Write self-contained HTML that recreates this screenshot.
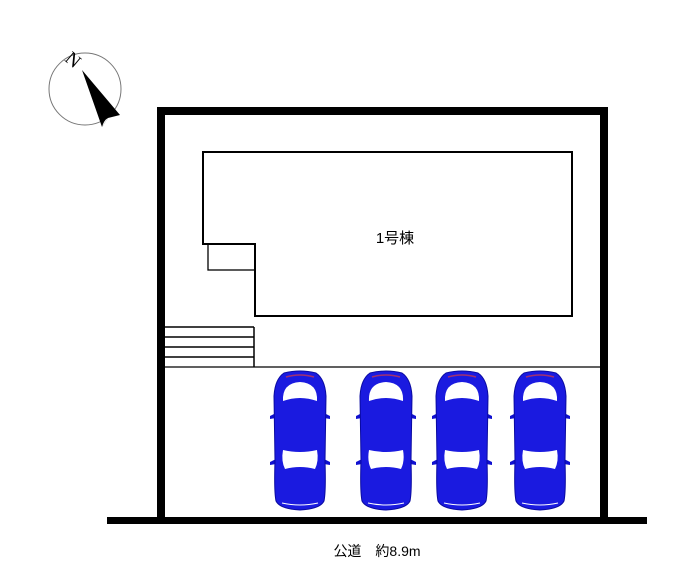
<!DOCTYPE html>
<html><head><meta charset="utf-8"><style>
html,body{margin:0;padding:0;background:#fff;width:678px;height:586px;overflow:hidden}
svg{display:block}
text{font-family:"Liberation Sans","Noto Sans CJK JP",sans-serif}
</style></head><body>
<svg width="678" height="586" viewBox="0 0 678 586" xmlns="http://www.w3.org/2000/svg">
<defs>
<g id="car">
 <path d="M-24,-28 l-6,3 l0,3 l6,-1z M24,-28 l6,3 l0,3 l-6,-1z" fill="#1010d0"/>
 <path d="M-24,18 l-6,3 l0,3 l6,-1z M24,18 l6,3 l0,3 l-6,-1z" fill="#1010d0"/>
 <path d="M-16,-68 Q0,-72 16,-68 Q25,-62 26,-45 L25,20 Q26,50 24,60 Q20,68 0,69 Q-20,68 -24,60 Q-26,50 -25,20 L-26,-45 Q-25,-62 -16,-68Z" fill="#1a1ae0" stroke="#0a0aa0" stroke-width="1"/>
 <path d="M-14,-64 Q0,-68 14,-64" fill="none" stroke="#a03070" stroke-width="1.5"/>
 <path d="M-17,-40 Q-18,-58 0,-59 Q18,-58 17,-40 Q0,-46 -17,-40Z" fill="#fff"/>
 <path d="M-17,9 Q0,13 17,9 Q19,20 15,28 Q0,24 -15,28 Q-19,20 -17,9Z" fill="#fff"/>
 <path d="M-18,62 Q0,66 18,62" fill="none" stroke="#fff" stroke-width="1"/>
</g>
</defs>
<circle cx="85" cy="89" r="36" fill="#fff" stroke="#777" stroke-width="1"/>
<polygon points="82,70 120,115 108,118 102,127" fill="#000"/>
<path d="M108,118 Q104,120 102,127" fill="#fff"/>
<text x="73" y="66" font-size="19" transform="rotate(40 73 60)" text-anchor="middle" style="font-family:'Liberation Serif',serif">N</text>
<rect x="157" y="107" width="8" height="412" fill="#000"/>
<rect x="600" y="107" width="8" height="412" fill="#000"/>
<rect x="157" y="107" width="451" height="8" fill="#000"/>
<rect x="107" y="517" width="540" height="7" fill="#000"/>
<path d="M203,152 L572,152 L572,316 L255,316 L255,244 L203,244 Z" fill="none" stroke="#000" stroke-width="2"/>
<rect x="208" y="244" width="47" height="26" fill="none" stroke="#000" stroke-width="1.3"/>
<text x="395" y="243" font-size="15" text-anchor="middle">1号棟</text>
<g stroke="#000" stroke-width="1.5">
<line x1="165" y1="327" x2="254" y2="327"/>
<line x1="165" y1="337" x2="254" y2="337"/>
<line x1="165" y1="347" x2="254" y2="347"/>
<line x1="165" y1="357" x2="254" y2="357"/>
<line x1="254" y1="327" x2="254" y2="367"/>
</g>
<line x1="165" y1="367" x2="600" y2="367" stroke="#000" stroke-width="1.3"/>
<use href="#car" x="300" y="441"/>
<use href="#car" x="386" y="441"/>
<use href="#car" x="462" y="441"/>
<use href="#car" x="540" y="441"/>
<text x="377" y="556" font-size="14" text-anchor="middle">公道　約8.9m</text>
</svg>
</body></html>
